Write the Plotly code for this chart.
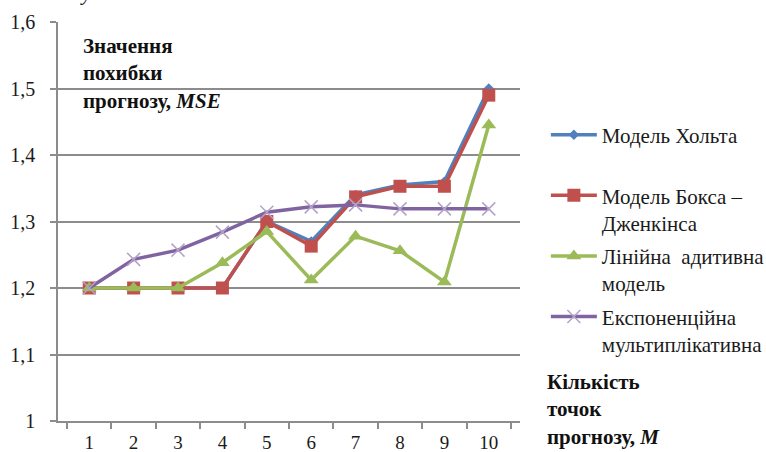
import plotly.graph_objects as go

# Forecast horizon (number of forecast points M)
points = ["1", "2", "3", "4", "5", "6", "7", "8", "9", "10"]

# MSE of each forecasting model
holt = [1.20, 1.20, 1.20, 1.20, 1.30, 1.27, 1.34, 1.355, 1.36, 1.50]
box_jenkins = [1.20, 1.20, 1.20, 1.20, 1.30, 1.263, 1.337, 1.353, 1.353, 1.49]
linear_additive = [1.20, 1.20, 1.20, 1.238, 1.285, 1.212, 1.278, 1.256, 1.209, 1.445]
exp_multiplicative = [1.20, 1.243, 1.257, 1.284, 1.314, 1.322, 1.325, 1.319, 1.319, 1.319]

y_tickvals = [1.0, 1.1, 1.2, 1.3, 1.4, 1.5, 1.6]
y_ticktext = ["1", "1,1", "1,2", "1,3", "1,4", "1,5", "1,6"]

SERIF = "'Liberation Serif', 'Times New Roman', Times, serif"

fig = go.Figure()

# (legend label, values, line colour, marker symbol, marker size, marker colour, marker outline)
series = [
    ("Модель Хольта<br> ", holt, "#4F81BD", "diamond", 8, "#4F81BD", 0),
    ("Модель Бокса –<br>Дженкінса", box_jenkins, "#C0504D", "square", 13, "#C0504D", 0),
    ("Лінійна  адитивна<br>модель", linear_additive, "#9BBB59", "triangle-up", 13, "#9BBB59", 0),
    ("Експоненційна<br>мультиплікативна", exp_multiplicative, "#8064A2", "x-thin", 13, "#B3A2C7", 1.5),
]

for i, (name, vals, color, sym, size, mcolor, mlw) in enumerate(series):
    fig.add_trace(go.Scatter(
        x=points, y=vals, name=name, mode="lines+markers",
        legendgroup=f"g{i}",
        line=dict(color=color, width=3.5),
        marker=dict(symbol=sym, size=size, color=mcolor,
                    line=dict(color=mcolor, width=mlw)),
    ))

fig.update_layout(
    width=766, height=452,
    margin=dict(l=58, r=246, t=22, b=31, autoexpand=False),
    plot_bgcolor="white", paper_bgcolor="white",
    font=dict(family=SERIF, size=20, color="#1a1a1a"),
    showlegend=True,
    legend=dict(
        x=1.056, y=0.768, xanchor="left", yanchor="top",
        font=dict(family=SERIF, size=21, color="#1a1a1a"),
        traceorder="grouped", tracegroupgap=3, valign="top",
        itemwidth=46,
        bgcolor="rgba(0,0,0,0)",
    ),
    xaxis=dict(
        type="category", tickson="boundaries",
        showgrid=False, showline=True, linecolor="#8c8c8c", linewidth=1.5,
        ticks="outside", ticklen=6, tickcolor="#8c8c8c", tickwidth=1.5,
        ticklabelstandoff=3,
        tickfont=dict(family=SERIF, size=19),
    ),
    yaxis=dict(
        range=[1.0, 1.6], tickvals=y_tickvals, ticktext=y_ticktext,
        showgrid=True, gridcolor="#8c8c8c", gridwidth=1.5,
        showline=True, linecolor="#8c8c8c", linewidth=1.5,
        ticks="outside", ticklen=6, tickcolor="#8c8c8c", tickwidth=1.5,
        ticklabelstandoff=11, zeroline=False,
        tickfont=dict(family=SERIF, size=20),
    ),
)

fig.add_annotation(
    text="<b>Значення<br>похибки<br>прогнозу, <i>MSE</i></b>",
    xref="paper", yref="paper", x=0.049, y=0.975,
    xanchor="left", yanchor="top", align="left", showarrow=False,
    font=dict(family=SERIF, size=21, color="#111111"),
)
fig.add_annotation(
    text="<b>Кількість<br>точок<br>прогнозу, <i>M</i></b>",
    xref="paper", yref="paper", x=1.055, y=0.133,
    xanchor="left", yanchor="top", align="left", showarrow=False,
    font=dict(family=SERIF, size=21, color="#111111"),
)
# tail of the axis caption running above the chart
fig.add_annotation(
    text="<i>у</i>",
    xref="paper", yref="paper", x=0.06, y=1.038,
    xanchor="center", yanchor="bottom", showarrow=False,
    font=dict(family=SERIF, size=21, color="#111111"),
)

fig.write_html("out.html")
